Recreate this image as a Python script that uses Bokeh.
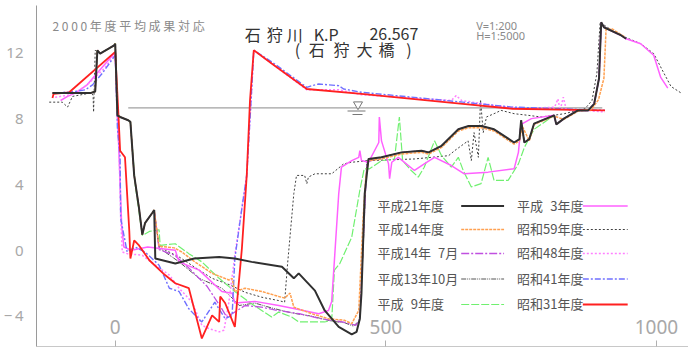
from bokeh.plotting import figure
from bokeh.models import Range1d, FixedTicker
from bokeh.core.properties import value
from bokeh.embed import file_html
from bokeh.resources import INLINE

# ---------------- cross-section surveys: distance (m) / elevation (m) ----------------

# left bank, common to the recent surveys (H9 - H21)
LB_X = [-116, -46, -37, -33, -28, -2, 0, 4, 9, 24, 28, 35, 44, 50, 55, 68, 72]
LB_Y = [9.5, 9.5, 9.6, 12.1, 11.9, 12.4, 12.5, 8.15, 8.05, 7.85, 7.75, 4.5, 2.5, 0.9, 1.6, 2.2, 2.4]

# H21 main channel
CH21_X = [74, 111, 146, 192, 221, 252, 308, 330, 339, 369, 387, 413, 437, 446, 452, 455]
CH21_Y = [-0.55, -0.85, -0.55, -0.45, -0.55, -0.75, -1.05, -1.75, -1.45, -2.5, -3.7, -4.7, -5.15, -5.0, -4.2, -2.65]

# flood-plain terrace right of the channel (recent surveys)
MID_X = [461, 468, 492, 529, 566, 579, 603, 634, 653, 677, 700, 737, 747, 750, 756, 765]
MID_Y = [3.4, 5.5, 5.6, 5.9, 6.0, 5.9, 6.3, 7.3, 7.5, 7.5, 7.3, 6.5, 6.7, 7.85, 6.5, 6.7]

# right bank and levee (recent surveys)
RB_X = [774, 811, 815, 829, 855, 874, 885, 894, 898, 903, 935, 944]
RB_Y = [7.65, 8.15, 7.6, 7.95, 8.45, 8.45, 8.85, 10.4, 13.8, 13.5, 13.0, 12.8]
RB_EXT_X = [971, 995, 1014, 1027, 1046]
RB_EXT_Y = [12.5, 11.9, 10.7, 9.9, 9.5]

# H14
CH14_X = [81, 109, 123, 147, 179, 210, 216, 221, 240, 271, 302, 313, 323, 330, 363, 394, 424, 437, 450, 458, 463]
CH14_Y = [0.2, 0.1, -0.15, -0.75, -1.45, -1.85, -1.75, -2.55, -2.35, -2.55, -2.85, -2.95, -2.65, -3.5, -3.9, -4.2, -4.3, -4.5, -3.7, 1.9, 4.4]
MID14_X = [468, 492, 529, 566, 579, 603, 634, 653, 677, 700, 737, 747, 752, 765]
MID14_Y = [5.4, 5.5, 5.8, 5.9, 5.8, 6.2, 7.2, 7.4, 7.4, 7.2, 6.4, 6.6, 7.5, 6.6]
RB14_X = [774, 811, 829, 855, 880, 893, 903, 907, 918, 942]
RB14_Y = [7.6, 8.1, 7.9, 8.4, 8.5, 9.1, 10.4, 13.4, 13.4, 12.9]

# H14 July
CH147_X = [81, 110, 140, 170, 197, 206, 216, 240, 270, 300, 340, 380, 420, 445, 452, 458, 465]
CH147_Y = [0.0, -0.35, -1.25, -2.25, -3.6, -4.1, -3.9, -3.4, -3.5, -3.7, -3.9, -4.2, -4.4, -4.6, -4.2, 0.4, 5.3]

# H13 October
CH13_X = [81, 118, 155, 197, 216, 229, 258, 289, 326, 363, 400, 424, 440, 452, 458, 465]
CH13_Y = [0.1, -0.75, -1.75, -2.35, -2.95, -3.4, -3.25, -3.55, -3.85, -4.05, -4.35, -4.45, -4.65, -4.3, -0.1, 5.4]

# H9
H9_X = [37, 50, 63, 81, 83, 111, 136, 160, 192, 221, 252, 289, 302, 326, 339, 387, 400, 405, 415, 437,
        452, 460, 470, 492, 516, 525, 531, 547, 560, 571, 590, 603, 621, 634, 643, 658, 676, 689, 700, 726,
        745, 756, 774]
H9_Y = [3.9, 0.85, 1.1, 1.2, 0.25, 0.35, -0.25, -0.75, -1.75, -2.55, -3.3, -4.1, -3.8, -4.1, -4.4, -4.4, -4.3, -1.25, -0.85, 0.75,
        3.6, 4.9, 4.9, 5.4, 5.5, 8.05, 5.4, 4.8, 4.4, 5.0, 6.6, 5.7, 5.0, 5.6, 4.8, 3.8, 4.0, 5.6, 4.2, 4.2,
        5.2, 6.2, 7.3]

# H3
H3_X = [-101, -88, -74, -52, -2, 0, 4, 8, 12, 16, 30, 60, 87, 111, 118, 155, 197, 216, 221, 258,
        302, 332, 376, 394, 400, 405, 413, 418, 437, 450, 452, 455, 468, 487, 488, 492, 505, 507, 511, 523,
        553, 571, 590, 621, 645, 689, 737, 745, 750, 769]
H3_Y = [9.05, 9.3, 9.5, 10.0, 11.9, 11.9, 8.35, 4.9, 1.4, 0.15, -0.05, 0.15, 0.05, -0.05, -0.75, -1.25, -2.55, -2.65, -3.25, -3.15,
        -3.4, -3.6, -3.9, -3.7, -3.15, -0.65, 3.4, 5.0, 5.4, 5.6, 6.0, 5.4, 5.3, 6.5, 8.05, 6.6, 5.2, 4.3, 5.3, 5.6,
        4.8, 5.2, 5.6, 5.1, 4.6, 4.7, 4.9, 5.9, 7.6, 7.95]
H3_END_X = [971, 995, 1008, 1021]
H3_END_Y = [12.5, 11.8, 10.45, 9.8]

# S59
S59_X = [-122, -98, -88, -79, -46, -41, -40, -37, -28, -2, 0, 4, 9, 24, 28, 35, 44, 50, 55, 68,
         72, 81, 118, 155, 179, 212, 240, 271, 302, 313, 318, 330, 335, 350, 354, 357, 369, 400, 422, 437,
         468, 553, 616, 627, 652, 658, 663, 671, 675, 680, 686, 700, 713, 737, 763, 787, 810, 830, 855, 868,
         881, 890, 896, 918, 942, 971, 995, 1014, 1027, 1046]
S59_Y = [8.95, 8.95, 8.65, 9.3, 9.5, 9.4, 8.35, 12.1, 11.9, 12.4, 12.5, 8.15, 8.05, 7.85, 7.75, 4.5, 2.5, 0.9, 1.6, 2.2,
         2.4, 0.15, -0.45, -1.25, -1.75, -2.15, -2.6, -2.9, -3.1, -3.2, -1.05, 3.4, 4.5, 4.5, 4.0, 4.4, 4.6, 4.6, 5.2, 5.3,
         5.4, 5.5, 5.7, 6.0, 6.6, 5.4, 7.1, 5.6, 9.1, 7.1, 8.05, 8.25, 8.45, 8.25, 8.15, 8.05, 8.15, 8.25, 8.45, 8.55,
         9.05, 10.7, 13.8, 13.3, 12.9, 12.5, 11.9, 10.7, 9.9, 9.5]

# S48
S48_X = [-111, -90, -74, -52, -20, 0, 4, 7, 10, 13, 22, 50, 74, 100, 118, 142, 160, 173, 192, 201,
         210, 221, 243, 251, 256, 289, 354, 376, 413, 455, 621, 630, 640, 700, 760, 812, 818, 822, 828, 833,
         840, 870, 905]
S48_Y = [9.25, 9.35, 9.5, 10.0, 11.0, 11.9, 7.85, 6.1, 2.0, -0.15, -0.25, -0.35, -0.95, -1.55, -2.35, -3.2, -4.6, -4.8, -5.0, -4.9,
         -3.2, -0.35, 4.5, 9.05, 12.1, 11.3, 9.7, 9.7, 9.7, 9.4, 9.05, 9.35, 9.05, 8.75, 8.55, 8.65, 9.15, 8.45, 9.25, 8.55,
         8.45, 8.45, 8.35]

# S41
S41_X = [-111, -74, -55, -42, -24, 0, 4, 9, 10, 22, 37, 55, 68, 81, 100, 118, 136, 160, 184, 203,
         216, 221, 234, 243, 251, 256, 289, 354, 363, 376, 413, 422, 455, 642, 734, 905]
S41_Y = [9.5, 9.6, 9.7, 10.0, 10.7, 11.8, 7.4, 5.6, 1.9, -0.15, 0.15, -0.15, -0.55, -0.95, -2.35, -2.55, -3.6, -4.4, -3.2, -4.2,
         -4.0, -0.55, 2.5, 4.5, 9.05, 12.1, 11.4, 9.85, 9.95, 10.05, 9.95, 9.75, 9.55, 8.95, 8.65, 8.45]

# S31
S31_X = [-116, -114, -85, 0, 6, 9, 18, 26, 28, 35, 44, 63, 92, 111, 136, 160, 179, 192, 194, 203,
         221, 234, 243, 249, 256, 289, 354, 455, 642, 734, 905]
S31_Y = [9.2, 9.45, 9.55, 12.0, 8.15, 6.0, 5.6, 1.1, -0.55, 0.55, 0.25, -0.65, -1.55, -2.05, -2.35, -5.4, -4.0, -4.4, -2.85, -3.25,
         -4.7, 0.05, 4.5, 9.05, 12.1, 11.3, 9.75, 9.45, 8.85, 8.55, 8.45]

WATER_LEVEL = 8.6
WATER_FROM, WATER_TO = 24, 900

X_TICKS = [0, 500, 1000]
Y_TICKS = [-4, 0, 4, 8, 12]

LEGEND_LEFT = ["平成21年度", "平成14年度", "平成14年\u20077月", "平成13年10月", "平成\u20079年度"]
LEGEND_RIGHT = ["平成\u20073年度", "昭和59年度", "昭和48年度", "昭和41年度", "昭和31年度"]


def cat(*parts):
    out = []
    for p_ in parts:
        out += list(p_)
    return out


SURVEYS = {
    "平成21年度": (cat(LB_X, CH21_X, MID_X, RB_X), cat(LB_Y, CH21_Y, MID_Y, RB_Y)),
    "平成14年度": (cat(LB_X, CH14_X, MID14_X, RB14_X), cat(LB_Y, CH14_Y, MID14_Y, RB14_Y)),
    "平成14年\u20077月": (cat(LB_X, CH147_X, MID_X[2:], RB_X), cat(LB_Y, CH147_Y, MID_Y[2:], RB_Y)),
    "平成13年10月": (cat(LB_X, CH13_X, MID_X[2:], RB_X), cat(LB_Y, CH13_Y, MID_Y[2:], RB_Y)),
    "平成\u20079年度": (cat(LB_X[:11], H9_X, RB_X[1:]), cat(LB_Y[:11], H9_Y, RB_Y[1:])),
    "平成\u20073年度": (cat(H3_X, RB_X[1:], H3_END_X), cat(H3_Y, RB_Y[1:], H3_END_Y)),
    "昭和59年度": (S59_X, S59_Y),
    "昭和48年度": (S48_X, S48_Y),
    "昭和41年度": (S41_X, S41_Y),
    "昭和31年度": (S31_X, S31_Y),
}

STYLES = {
    "平成21年度": dict(line_color="#303030", line_width=2.0),
    "平成14年度": dict(line_color="#ffa050", line_width=1.5, line_dash="3 1"),
    "平成14年\u20077月": dict(line_color="#c050e0", line_width=1.3, line_dash="8 2 2 2"),
    "平成13年10月": dict(line_color="#555555", line_width=1.0, line_dash="5 1 1 1 1 1"),
    "平成\u20079年度": dict(line_color="#70f070", line_width=1.2, line_dash="8 2"),
    "平成\u20073年度": dict(line_color="#ff60ff", line_width=1.5),
    "昭和59年度": dict(line_color="#404040", line_width=1.0, line_dash="2 2"),
    "昭和48年度": dict(line_color="#ff80ff", line_width=1.5, line_dash="2 2"),
    "昭和41年度": dict(line_color="#7070ff", line_width=1.4, line_dash="6 2 2 2"),
    "昭和31年度": dict(line_color="#ff2020", line_width=1.8),
}

DRAW_ORDER = ["昭和59年度", "平成13年10月", "平成\u20079年度", "平成14年\u20077月", "平成\u20073年度",
              "昭和48年度", "昭和41年度", "昭和31年度", "平成14年度", "平成21年度"]

# ---------------- figure ----------------
X_RANGE = (-145.5, 1059.3)
Y_RANGE = (-5.89, 14.82)
F_LEFT, F_TOP, F_RIGHT, F_BOTTOM = 34, 5, 688, 346


def dx(px):
    return X_RANGE[0] + (px - F_LEFT) * (X_RANGE[1] - X_RANGE[0]) / (F_RIGHT - F_LEFT)


def dy(py):
    return Y_RANGE[1] - (py - F_TOP) * (Y_RANGE[1] - Y_RANGE[0]) / (F_BOTTOM - F_TOP)


p = figure(width=688, height=347, x_range=Range1d(*X_RANGE), y_range=Range1d(*Y_RANGE),
           output_backend="svg", toolbar_location=None,
           min_border_left=F_LEFT, min_border_right=0, min_border_top=F_TOP, min_border_bottom=1)
p.outline_line_color = None
p.grid.visible = False
p.background_fill_color = "white"
p.border_fill_color = "white"

AX_FONT = "Noto Sans"
p.yaxis.ticker = FixedTicker(ticks=Y_TICKS)
p.yaxis.major_label_overrides = {-4: "\u2212\u20094"}
p.yaxis.major_label_text_font = AX_FONT
p.yaxis.major_label_text_font_size = "15px"
p.yaxis.major_label_text_color = "#a8a8a8"
p.yaxis.axis_line_color = "#9a9a9a"
p.yaxis.major_tick_line_color = None
p.yaxis.minor_tick_line_color = None
p.yaxis.major_label_standoff = 7

p.xaxis.ticker = FixedTicker(ticks=X_TICKS)
p.xaxis.major_label_text_font = AX_FONT
p.xaxis.major_label_text_font_size = "19px"
p.xaxis.major_label_text_color = "#a8a8a8"
p.xaxis.axis_line_color = "#c8c8c8"
p.xaxis.major_tick_line_color = "#b0b0b0"
p.xaxis.major_tick_in = 6
p.xaxis.major_tick_out = 0
p.xaxis.minor_tick_line_color = None
p.xaxis.major_label_standoff = -27

# design water level
p.line([WATER_FROM, WATER_TO], [WATER_LEVEL, WATER_LEVEL], line_color="#8a8a8a", line_width=1)
wl_x = dx(356.5)
p.scatter([wl_x], [dy(104)], marker="inverted_triangle", size=9, fill_color="white",
          line_color="#777777", line_width=1)
p.segment(x0=[dx(346), dx(351)], y0=[dy(110.5), dy(114)], x1=[dx(364), dx(361)], y1=[dy(110.5), dy(114)],
          line_color="#777777", line_width=1)

# survey lines
for name in DRAW_ORDER:
    xs, ys = SURVEYS[name]
    p.line(xs, ys, **STYLES[name])

# legend (label followed by a line sample)
JP = value("Noto Sans CJK JP")
ROWS = [204.5, 228, 252, 277.5, 303]
for col, labels in enumerate([LEGEND_LEFT, LEGEND_RIGHT]):
    tx = 376 if col == 0 else 516
    sx0, sx1 = (460, 503) if col == 0 else (582, 627)
    p.text(x=[dx(tx)] * len(labels), y=[dy(r) for r in ROWS], text=labels,
           text_font=JP, text_font_size="13px", text_color="#555555",
           text_align="left", text_baseline="middle")
    for r, lab in zip(ROWS, labels):
        p.line([dx(sx0), dx(sx1)], [dy(r + 1), dy(r + 1)], **STYLES[lab])

# titles
TITLE_1 = ["石", "狩", "川", "K.P", "26.567"]
TITLE_1_PX = [243, 265, 285, 312, 368]
TITLE_2 = ["(", "石", "狩", "大", "橋", ")"]
TITLE_2_PX = [293, 307, 332, 355, 377, 405]
p.text(x=[dx(v) for v in TITLE_1_PX], y=[dy(33)] * len(TITLE_1), text=TITLE_1,
       text_font=JP, text_font_size="16px", text_color="#333333",
       text_align="left", text_baseline="alphabetic")
p.text(x=[dx(v) for v in TITLE_2_PX], y=[dy(48)] * len(TITLE_2), text=TITLE_2,
       text_font=JP, text_font_size="16px", text_color="#333333",
       text_align="left", text_baseline="alphabetic")

p.text(x=[dx(50)], y=[dy(25)], text=["2 0 0 0 年 度 平 均 成 果 対 応"],
       text_font=JP, text_font_size="12px", text_color="#8a8a8a",
       text_align="left", text_baseline="alphabetic")
p.text(x=[dx(475), dx(475)], y=[dy(25), dy(35)], text=["V=1:200", "H=1:5000"],
       text_font=value("Noto Sans"), text_font_size="11px", text_color="#8a8a8a",
       text_align="left", text_baseline="alphabetic")

open("out.html", "w").write(file_html(p, INLINE))
